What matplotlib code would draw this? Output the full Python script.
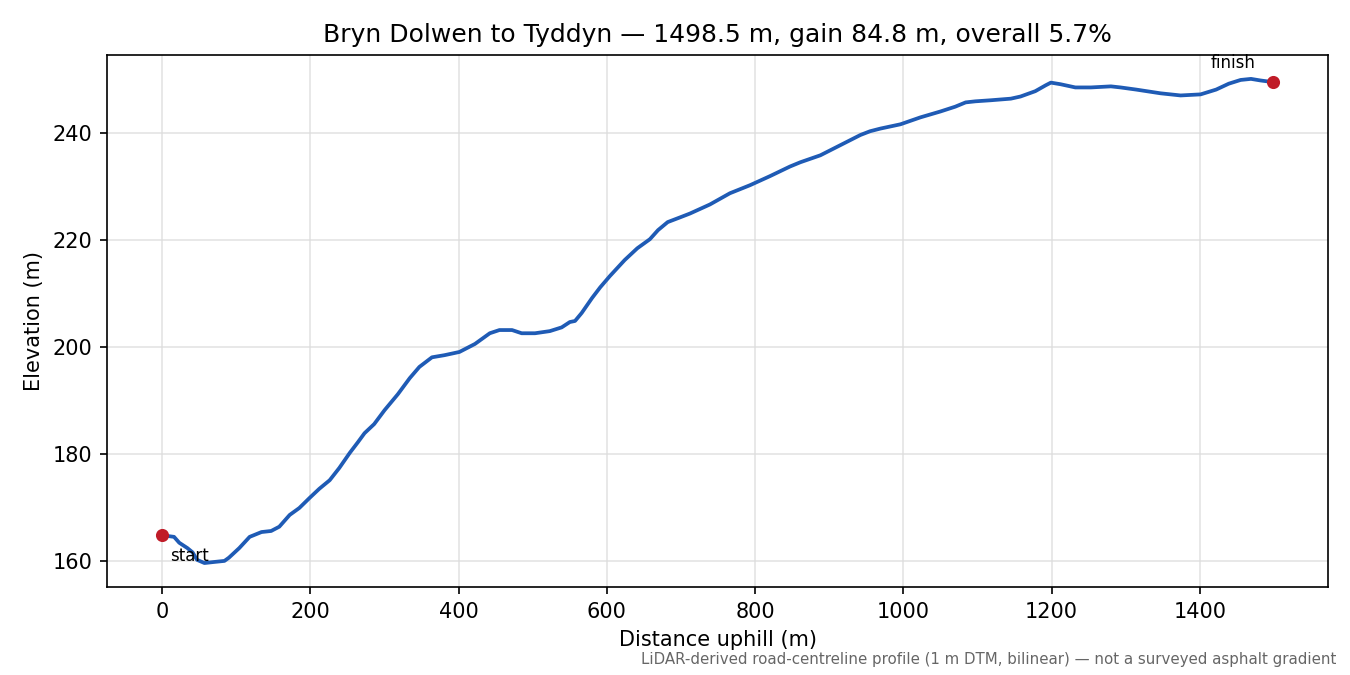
import matplotlib
matplotlib.use('Agg')
import matplotlib.pyplot as plt

# profile (distance along road, elevation)
dist = [0, 16, 23, 34, 41, 47, 57, 70, 84, 90, 104, 118, 134, 147, 158, 172, 185,
        199, 212, 226, 239, 253, 264, 273, 286, 300, 318, 334, 347, 364, 381, 401,
        422, 442, 455, 472, 485, 503, 523, 539, 550, 557, 566, 580, 591, 604, 624,
        641, 658, 669, 682, 699, 712, 739, 766, 793, 820, 847, 861, 888, 915, 942,
        955, 969, 996, 1023, 1050, 1070, 1084, 1097, 1118, 1145, 1158, 1178, 1192,
        1199, 1212, 1232, 1253, 1280, 1293, 1314, 1347, 1374, 1401, 1422, 1439,
        1455, 1469, 1482, 1498.5]
elev = [164.8, 164.5, 163.4, 162.4, 161.6, 160.2, 159.6, 159.8, 160.0, 160.6, 162.4,
        164.5, 165.4, 165.6, 166.4, 168.6, 169.9, 171.8, 173.5, 175.1, 177.4, 180.2,
        182.2, 183.9, 185.6, 188.2, 191.2, 194.2, 196.3, 198.1, 198.5, 199.1, 200.6,
        202.6, 203.2, 203.2, 202.6, 202.6, 203.0, 203.7, 204.7, 204.9, 206.4, 209.2,
        211.2, 213.3, 216.3, 218.5, 220.2, 221.9, 223.4, 224.3, 225.0, 226.7, 228.8,
        230.3, 232.0, 233.8, 234.6, 235.9, 237.8, 239.7, 240.4, 240.9, 241.7, 243.0,
        244.1, 245.0, 245.8, 246.0, 246.2, 246.5, 246.9, 247.9, 249.0, 249.5, 249.2,
        248.6, 248.6, 248.8, 248.6, 248.2, 247.5, 247.1, 247.3, 248.2, 249.3, 250.0,
        250.2, 249.9, 249.6]

fig, ax = plt.subplots(figsize=(9, 4.5), dpi=150)
fig.subplots_adjust(left=0.079, right=0.984, top=0.919, bottom=0.130)

ax.plot(dist, elev, color='#1f5bb5', lw=1.8)
ax.scatter([dist[0], dist[-1]], [elev[0], elev[-1]], color='#c01c28', s=28, zorder=3)
ax.annotate('start', (dist[0], elev[0]), xytext=(4, -10), textcoords='offset points',
            fontsize=8, ha='left', va='center')
ax.annotate('finish', (dist[-1], elev[-1]), xytext=(-19, 9), textcoords='offset points',
            fontsize=8, ha='center', va='center')

ax.grid(True, color='#dddddd', lw=0.8, alpha=0.8)
ax.set_axisbelow(True)
ax.set_xlabel('Distance uphill (m)')
ax.set_ylabel('Elevation (m)')
ax.set_title('Bryn Dolwen to Tyddyn \u2014 1498.5 m, gain 84.8 m, overall 5.7%', fontsize=12)

fig.text(0.990, 0.012, 'LiDAR-derived road-centreline profile (1 m DTM, bilinear) \u2014 '
         'not a surveyed asphalt gradient', ha='right', va='bottom', fontsize=7.2,
         color='#666666')

fig.savefig('out.png')
